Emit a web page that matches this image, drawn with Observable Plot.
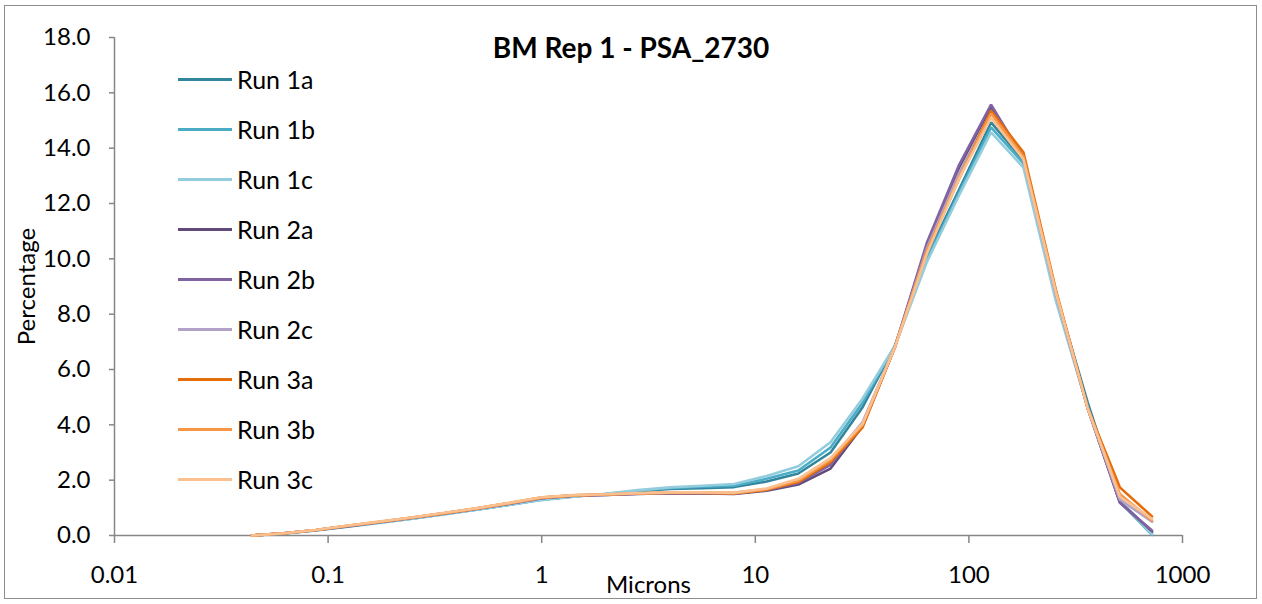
<!DOCTYPE html>
<html>
<head>
<meta charset="utf-8">
<script src="https://cdn.jsdelivr.net/npm/d3@7"></script>
<script src="https://cdn.jsdelivr.net/npm/@observablehq/plot@0.6"></script>
<style>
  html, body { margin: 0; padding: 0; background: #fff; }
  #wrap { position: relative; width: 1262px; height: 604px; font-family: Lato, "Open Sans", sans-serif; }
  #border { position: absolute; left: 4px; top: 5px; width: 1253px; height: 594px; border: 1.5px solid #8c8c8c; pointer-events: none; box-sizing: border-box; }
  #title { position: absolute; left: 0; top: 30px; width: 1262px; text-align: center; font-weight: bold; font-size: 28px; color: #000; }
  #legend { position: absolute; left: 178px; top: 54px; }
  .row { height: 50px; display: flex; align-items: center; font-size: 25px; color: #000; }
  .sw { width: 54px; height: 3px; margin-right: 5px; }
</style>
</head>
<body>
<div id="wrap"><div id="chart"></div><div id="title">BM Rep 1 - PSA_2730</div><div id="legend"></div><div id="border"></div></div>
<script>
// Size bins (microns)
const microns = [0.044, 0.0622, 0.088, 0.124, 0.176, 0.249, 0.352, 0.498, 0.704, 0.996, 1.41, 1.99, 2.82, 3.98, 5.63, 7.96, 11.3, 15.9, 22.5, 31.8, 45.0, 63.7, 90.0, 127, 180, 255, 360, 509, 720];

const runNames = ["Run 1a", "Run 1b", "Run 1c", "Run 2a", "Run 2b", "Run 2c", "Run 3a", "Run 3b", "Run 3c"];
const runColors = ["#31859C", "#4BACC6", "#93CDDD", "#604A7B", "#8064A2", "#B3A2C7", "#E46C0A", "#F79646", "#FAC090"];

const run1a = [0.00, 0.07, 0.19, 0.33, 0.47, 0.62, 0.78, 0.94, 1.11, 1.29, 1.41, 1.50, 1.60, 1.68, 1.71, 1.75, 1.95, 2.24, 3.00, 4.64, 6.85, 10.1, 12.5, 14.93, 13.55, 8.75, 4.80, 1.25, 0.10];
const run1b = [0.00, 0.07, 0.19, 0.33, 0.47, 0.62, 0.78, 0.94, 1.11, 1.29, 1.41, 1.50, 1.62, 1.71, 1.76, 1.80, 2.05, 2.35, 3.18, 4.80, 6.85, 10.0, 12.4, 14.75, 13.45, 8.60, 4.65, 1.22, 0.02];
const run1c = [0.00, 0.07, 0.18, 0.32, 0.46, 0.61, 0.77, 0.93, 1.10, 1.28, 1.40, 1.51, 1.64, 1.74, 1.80, 1.86, 2.15, 2.50, 3.37, 4.95, 6.85, 9.9, 12.3, 14.57, 13.30, 8.50, 4.60, 1.25, 0.05];
const run2a = [0.00, 0.08, 0.20, 0.34, 0.49, 0.64, 0.80, 0.97, 1.15, 1.35, 1.44, 1.47, 1.50, 1.53, 1.52, 1.50, 1.62, 1.84, 2.42, 3.95, 6.80, 10.5, 13.3, 15.50, 13.70, 8.80, 4.60, 1.20, 0.15];
const run2b = [0.00, 0.08, 0.20, 0.34, 0.49, 0.64, 0.80, 0.97, 1.15, 1.35, 1.44, 1.47, 1.51, 1.54, 1.53, 1.52, 1.65, 1.90, 2.55, 4.00, 6.80, 10.6, 13.4, 15.57, 13.65, 8.80, 4.60, 1.18, 0.18];
const run2c = [0.00, 0.08, 0.20, 0.35, 0.50, 0.65, 0.81, 0.98, 1.16, 1.36, 1.45, 1.48, 1.52, 1.55, 1.55, 1.54, 1.68, 1.98, 2.70, 4.10, 6.80, 10.4, 13.1, 15.30, 13.60, 8.75, 4.60, 1.30, 0.50];
const run3a = [0.00, 0.08, 0.20, 0.35, 0.50, 0.65, 0.81, 0.98, 1.17, 1.37, 1.45, 1.48, 1.52, 1.55, 1.54, 1.52, 1.65, 1.93, 2.65, 3.91, 6.80, 10.3, 12.9, 15.35, 13.85, 8.90, 4.60, 1.74, 0.69];
const run3b = [0.00, 0.08, 0.20, 0.35, 0.50, 0.65, 0.81, 0.98, 1.17, 1.37, 1.45, 1.48, 1.52, 1.55, 1.55, 1.53, 1.67, 1.98, 2.72, 4.00, 6.80, 10.3, 12.95, 15.25, 13.70, 8.85, 4.60, 1.50, 0.54];
const run3c = [0.00, 0.08, 0.21, 0.36, 0.51, 0.66, 0.82, 0.99, 1.18, 1.38, 1.46, 1.49, 1.53, 1.56, 1.56, 1.55, 1.70, 2.05, 2.80, 4.04, 6.80, 10.2, 12.9, 15.10, 13.60, 8.80, 4.60, 1.40, 0.60];

const xTicks = [0.01, 0.1, 1, 10, 100, 1000];
const xTickLabels = ["0.01", "0.1", "1", "10", "100", "1000"];
const yTicks = [0, 2, 4, 6, 8, 10, 12, 14, 16, 18];

const series = [run1a, run1b, run1c, run2a, run2b, run2c, run3a, run3b, run3c];
const data = [];
series.forEach((vals, i) => vals.forEach((v, j) => data.push({run: runNames[i], x: microns[j], y: v})));

const axisColor = "#868686";
const chart = Plot.plot({
  width: 1262,
  height: 604,
  marginLeft: 114,
  marginRight: 80,
  marginTop: 37,
  marginBottom: 69,
  style: {fontFamily: "Lato, 'Open Sans', sans-serif", fontSize: "24px", color: "#000", background: "transparent"},
  x: {type: "log", domain: [0.01, 1000]},
  y: {domain: [0, 18]},
  color: {domain: runNames, range: runColors},
  marks: [
    Plot.ruleY([0], {stroke: axisColor, strokeWidth: 1.5}),
    Plot.ruleX([0.01], {stroke: axisColor, strokeWidth: 1.5}),
    Plot.axisY({ticks: yTicks, tickFormat: d => d.toFixed(1), tickSize: 5, tickPadding: 19, stroke: axisColor, strokeWidth: 1.5, label: null, fontSize: 24, fill: "#000"}),
    Plot.axisX({ticks: xTicks, tickFormat: d => xTickLabels[xTicks.indexOf(d)], tickSize: 8, tickPadding: 22, stroke: axisColor, strokeWidth: 1.5, label: null, fontSize: 24, fill: "#000"}),
    Plot.text(["Percentage"], {frameAnchor: "left", textAnchor: "middle", dx: -87, rotate: -90, fontSize: 24, fill: "#000"}),
    Plot.text(["Microns"], {frameAnchor: "bottom", dy: 57, fontSize: 24, fill: "#000"}),
    Plot.line(data, {x: "x", y: "y", z: "run", stroke: "run", strokeWidth: 2.6, strokeLinejoin: "miter"})
  ]
});
document.getElementById("chart").appendChild(chart);

const legend = document.getElementById("legend");
runNames.forEach((name, i) => {
  const row = document.createElement("div");
  row.className = "row";
  const sw = document.createElement("div");
  sw.className = "sw";
  sw.style.background = runColors[i];
  const t = document.createElement("span");
  t.textContent = name;
  row.appendChild(sw);
  row.appendChild(t);
  legend.appendChild(row);
});
</script>
</body>
</html>
